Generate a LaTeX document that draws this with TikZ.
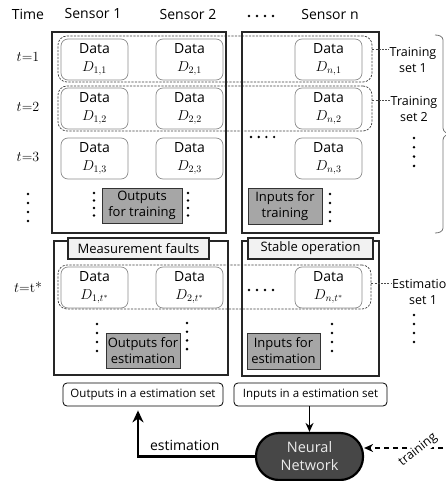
\documentclass[tikz,border=0pt]{standalone}
\usepackage{fontspec}
\setsansfont{Open Sans}
\usetikzlibrary{arrows.meta}

% vertical column of four dots: x, top y, spacing
\newcommand\dotcolumn[3]{\foreach \k in {0,1,2,3} \fill (#1,{#2+\k*#3}) circle (1.4pt);}
% horizontal row of four dots: left x, y, spacing
\newcommand\dotrow[3]{\foreach \k in {0,1,2,3} \fill ({#1+\k*#3},#2) circle (1.3pt);}

\begin{document}
\begin{tikzpicture}[x=1pt,y=-1pt,font=\sffamily,
  frame/.style={draw=black!85, line width=1.6pt},
  rowset/.style={draw=black!75, line width=0.7pt, dash pattern=on 2.2pt off 1.3pt,
    rounded corners=9pt, inner sep=0pt},
  databox/.style={draw=black!45, line width=0.7pt, rounded corners=7pt,
    minimum width=67pt, minimum height=41pt, inner sep=0pt, align=center,
    font=\sffamily\fontsize{14}{18}\selectfont},
  graybox/.style={draw=black!80, fill=black!35, line width=1pt, inner sep=0pt,
    align=center, font=\sffamily\fontsize{13}{16}\selectfont},
  tagbox/.style={draw=black!85, fill=black!5, line width=1.2pt, minimum height=21pt,
    inner sep=0pt, font=\sffamily\fontsize{13}{15}\selectfont},
  setbox/.style={draw=black, fill=white, rounded corners=4pt, line width=0.8pt,
    minimum height=23pt, inner sep=0pt, font=\sffamily\fontsize{11.5}{13}\selectfont},
  nnbox/.style={draw=black, fill=black!72, text=black!8, line width=2.2pt,
    rounded corners=23pt, minimum width=107pt, minimum height=47pt, inner sep=0pt,
    align=center, font=\sffamily\fontsize{14.5}{18}\selectfont},
  setlabel/.style={align=center, inner sep=1pt, font=\sffamily\fontsize{12.5}{16}\selectfont},
  head/.style={font=\sffamily\fontsize{14}{16}\selectfont},
  timelbl/.style={font=\rmfamily\fontsize{14}{16}\selectfont},
  link/.style={draw=black!70, line width=0.6pt, dash pattern=on 2pt off 1.2pt},
]
\useasboundingbox (0,0) rectangle (446,481);

% column headers
\node[head] (time) at (28,14) {Time};
\node[head] (s1) at (93,14) {Sensor 1};
\node[head] (s2) at (188,15) {Sensor 2};
\node[head] (sn) at (330,15) {Sensor n};
\dotrow{249}{16}{8}

% time stamps
\node[timelbl] (t1) at (28,57) {$t$=1};
\node[timelbl] (t2) at (28,107) {$t$=2};
\node[timelbl] (t3) at (28,157) {$t$=3};
\dotcolumn{28}{194}{9}
\node[timelbl] (tst) at (28,287) {$t$=t*};

% training sets (dashed rows)
\node[rowset, minimum width=314pt, minimum height=46pt] (set1) at (215,59) {};
\node[rowset, minimum width=314pt, minimum height=45pt] (set2) at (215,108.5) {};
\node[rowset, minimum width=313pt, minimum height=44pt] (eset) at (214.5,287) {};

% sensor blocks
\draw[frame] (52,32) rectangle (226,233);
\draw[frame] (242,32) rectangle (379,233);
\draw[frame] (54,241) rectangle (228,375);
\draw[frame] (242,241) rectangle (379,376);

% measurements
\node[databox] (d11) at (94.5,59.5) {Data\\$D_{1,1}$};
\node[databox] (d21) at (189.5,59.5) {Data\\$D_{2,1}$};
\node[databox] (dn1) at (328.5,59.5) {Data\\$D_{n,1}$};
\node[databox] (d12) at (94.5,108.5) {Data\\$D_{1,2}$};
\node[databox] (d22) at (189.5,108.5) {Data\\$D_{2,2}$};
\node[databox] (dn2) at (328.5,108.5) {Data\\$D_{n,2}$};
\node[databox] (d13) at (94.5,158.5) {Data\\$D_{1,3}$};
\node[databox] (d23) at (189.5,158.5) {Data\\$D_{2,3}$};
\node[databox] (dn3) at (328.5,158.5) {Data\\$D_{n,3}$};
\node[databox] (d1t) at (94.5,287.5) {Data\\$D_{1,t^*}$};
\node[databox] (d2t) at (189.5,287.5) {Data\\$D_{2,t^*}$};
\node[databox] (dnt) at (328.5,287.5) {Data\\$D_{n,t^*}$};
\dotrow{251}{137}{7.7}
\dotrow{249}{290}{8}

% training outputs / inputs
\node[graybox, minimum width=80pt, minimum height=35pt] (otrain) at (142,205.5) {Outputs\\for training};
\dotcolumn{94}{193}{7.5}
\dotcolumn{188}{193}{7.5}
\node[graybox, minimum width=74pt, minimum height=36pt] (itrain) at (285,206) {Inputs for\\training};
\dotcolumn{330}{194}{9}

% operating conditions
\node[tagbox, minimum width=141pt] (faults) at (138.5,248.5) {Measurement faults};
\node[tagbox, minimum width=125pt] (stable) at (310.5,248.5) {Stable operation};

% estimation outputs / inputs
\node[graybox, minimum width=74pt, minimum height=35pt] (oest) at (143,350.5) {Outputs for\\estimation};
\dotcolumn{97}{324}{9}
\dotcolumn{187}{323}{8.7}
\node[graybox, minimum width=73pt, minimum height=36pt] (iest) at (283.5,351) {Inputs for\\estimation};
\dotcolumn{332}{324}{9}

% set labels on the right
\node[setlabel] (ts1) at (413,59.5) {Training\\set 1};
\node[setlabel] (ts2) at (414,109) {Training\\set 2};
\dotcolumn{414}{138}{9.3}
\node[setlabel, anchor=west] (es1) at (391,291.5) {Estimation\\set 1};
\dotcolumn{414}{315}{9}
\draw[link] (set1.east |- 0,49) -- (ts1.west |- 0,49);
\draw[link] (set2.east |- 0,100) -- (ts2.west |- 0,100);
\draw[link] (eset.east |- 0,283) -- (es1.west |- 0,283);

% brace grouping the training sets
\draw[black!55, line width=0.8pt] (435,35) to[out=0,in=90] (443,40) -- (443,128)
  to[out=-90,in=180] (451,134) to[out=180,in=90] (443,140) -- (443,228)
  to[out=-90,in=0] (435,233);

% estimation sets and network
\node[setbox, minimum width=160pt] (oset) at (143,394.5) {Outputs in a estimation set};
\node[setbox, minimum width=153pt] (iset) at (310.5,394.5) {Inputs in a estimation set};
\node[nnbox] (nn) at (309.5,456.5) {Neural\\Network};
\coordinate (trainsrc) at (452,448);

\draw[line width=1.5pt, -{Stealth[length=9pt,width=8pt]}] (iset.south -| nn.north) -- (nn.north);
\draw[line width=2.5pt, -{Stealth[length=12pt,width=11pt]}, shorten >=4pt]
  (nn.west) -| ([xshift=-5pt]oset.south)
  node[pos=0.3, above=1pt, font=\sffamily\fontsize{14}{16}\selectfont, text=black] {estimation};
\draw[line width=1.3pt, dash pattern=on 5pt off 4pt, -{Stealth[length=9pt,width=8pt]}]
  (trainsrc) -- ([yshift=8.5pt]nn.east);
\node[fill=white, inner sep=0.5pt, rotate=38, font=\sffamily\fontsize{12.5}{14}\selectfont] (trainlbl) at (418,450) {training};

\end{tikzpicture}
\end{document}
